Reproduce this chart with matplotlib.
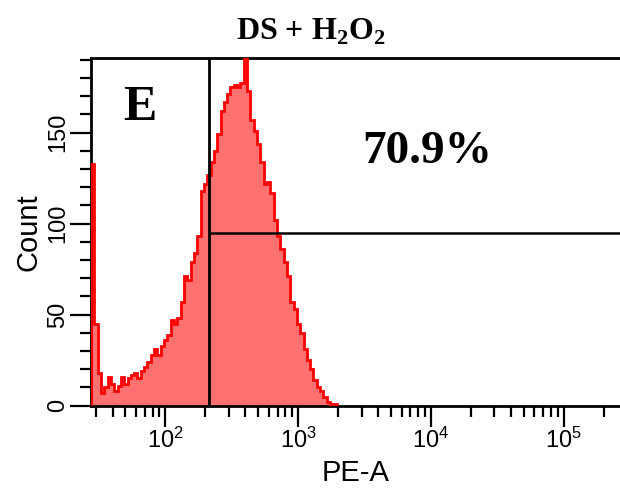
import numpy as np
import matplotlib
matplotlib.use("Agg")
import matplotlib.pyplot as plt
from matplotlib.ticker import FixedLocator, FuncFormatter

plt.rcParams['mathtext.fontset'] = 'custom'
plt.rcParams['mathtext.rm'] = 'Liberation Serif:bold'
plt.rcParams['mathtext.sf'] = 'Liberation Sans'

# histogram counts, PE-A log bins (0.025 decade wide) starting at the left axis edge
counts = [133, 45, 18, 7, 10, 16, 12, 8, 11, 16,
          12, 15, 17, 18, 15, 19, 21, 24, 28, 31,
          28, 33, 36, 39, 47, 45, 48, 57, 71, 69,
          79, 84, 93, 118, 122, 127, 134, 140, 149, 162,
          167, 171, 175, 176, 175, 177, 195, 173, 157, 151,
          144, 134, 122, 123, 117, 102, 93, 86, 79, 71,
          57, 53, 45, 40, 31, 25, 20, 14, 10, 8,
          5, 2, 1, 1]
log_start = 1.44
log_step = 0.025
edges = 10 ** (log_start + log_step * np.arange(len(counts) + 1))

gate_x = 213        # PE-A gate threshold
gate_y = 95         # count level of the gate marker
pct_label = "70.9%"
panel = "E"

fig = plt.figure(figsize=(6.2, 4.98), dpi=100)
ax = fig.add_axes([91 / 620, 1 - 405.7 / 498, 1 - 91 / 620, (405.7 - 58) / 498])

ax.stairs(counts, edges, fill=True, color='#ff7070', zorder=2)
ax.stairs(counts, edges, fill=False, color='#ff0000', linewidth=2, zorder=3)

ax.set_xscale('log')
ax.set_xlim(10 ** 1.44, 10 ** 5.4226)
ax.set_ylim(0, 191)

# gate lines
ax.axvline(gate_x, color='black', linewidth=2, zorder=4)
ax.plot([gate_x, ax.get_xlim()[1]], [gate_y, gate_y], color='black', linewidth=1.8, zorder=4, clip_on=False)

for s in ['left', 'bottom', 'top']:
    ax.spines[s].set_linewidth(2)
ax.spines['right'].set_visible(False)

# ticks
major_x = [1e2, 1e3, 1e4, 1e5]
minor_x = [m * 10 ** d for d in range(1, 6) for m in range(2, 10)]
ax.xaxis.set_major_locator(FixedLocator(major_x))
ax.xaxis.set_minor_locator(FixedLocator(minor_x))
ax.xaxis.set_major_formatter(FuncFormatter(lambda v, p: r'$\mathsf{10^{%d}}$' % round(np.log10(v))))
ax.xaxis.set_minor_formatter(FuncFormatter(lambda v, p: ''))

ax.set_yticks([0, 50, 100, 150])
ax.set_yticks(list(range(0, 191, 10)), minor=True)

ax.tick_params(axis='both', which='major', direction='out', length=15, width=1.6, labelsize=17, pad=1)
ax.tick_params(axis='both', which='minor', direction='out', length=8, width=1.6)
for lbl in ax.get_yticklabels():
    lbl.set_rotation(90)
    lbl.set_va('center')
    lbl.set_family('Liberation Sans')

ax.set_xlabel('PE-A', fontsize=21, family='Liberation Sans', labelpad=4)
ax.set_ylabel('Count', fontsize=21, family='Liberation Sans', labelpad=3)

ax.text(0.093, 0.856, panel, transform=ax.transAxes, fontsize=36, fontweight='bold',
        family='Liberation Serif', ha='center', va='center')
ax.text(0.636, 0.73, pct_label, transform=ax.transAxes, fontsize=34, fontweight='bold',
        family='Liberation Serif', ha='center', va='center')

fig.text(311 / 620, 1 - 32 / 498, r'DS + H$_2$O$_2$', fontsize=23, fontweight='bold',
         family='Liberation Serif', ha='center', va='center')

fig.savefig('out.png', dpi=100)
